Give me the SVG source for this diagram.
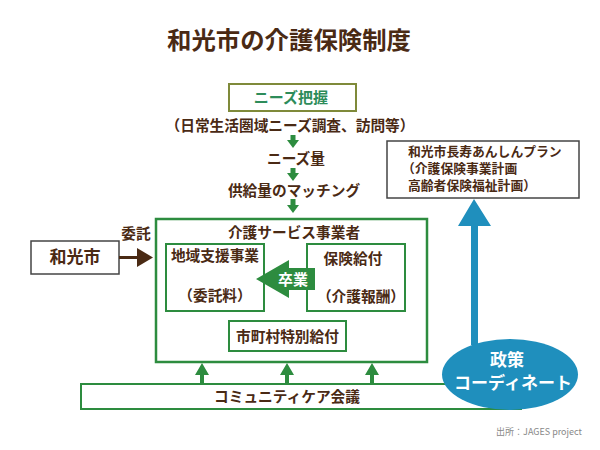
<svg xmlns="http://www.w3.org/2000/svg" width="600" height="450" viewBox="0 0 600 450">
<defs><style>
text{font-family:"Noto Sans CJK JP","Noto Sans",sans-serif;font-weight:700;fill:#4a2a14;text-anchor:middle}
.s{font-size:14.7px}
.p{font-size:12.800px;text-anchor:start}
.w{fill:#fff;font-size:17px}
.box{fill:#fff;stroke:#2d8c3f;stroke-width:2}
.dark{fill:#fff;stroke:#444;stroke-width:1.5}
.ga{fill:#2d8c3f}
.bl{fill:#1f8fbd}
</style></defs>
<rect width="600" height="450" fill="#fff"/>
<text id="title" x="289" y="49" font-size="24.4">和光市の介護保険制度</text>
<g id="community"><rect class="box" x="81" y="384" width="440" height="25"/><text class="s" x="287" y="402">コミュニティケア会議</text></g>
<g id="care"><rect class="box" x="156" y="219" width="271" height="143" style="stroke-width:2.5"/><text class="s" x="294" y="238">介護サービス事業者</text></g>
<g id="needs"><rect x="229" y="84" width="127" height="27" fill="#fff" stroke="#7f8a3a" stroke-width="2"/><text x="291" y="103" font-size="15" style="fill:#2d8c5a">ニーズ把握</text></g>
<text class="s" id="t1" x="290" y="131">（日常生活圏域ニーズ調査、訪問等）</text>
<text class="s" id="t2" x="296" y="164">ニーズ量</text>
<text class="s" id="t3" x="294" y="196">供給量のマッチング</text>
<g id="plan"><rect class="dark" x="387" y="141" width="192" height="57"/>
<text class="p" x="408" y="156">和光市長寿あんしんプラン</text>
<text class="p" x="402" y="173">（介護保険事業計画</text>
<text class="p" x="408" y="190">高齢者保険福祉計画）</text></g>
<g id="wako"><rect class="dark" x="31" y="241" width="88" height="33"/><text x="75" y="263" font-size="17">和光市</text></g>
<text class="s" id="itaku" x="136" y="239">委託</text>
<g id="chiiki"><rect class="box" x="166" y="244" width="98" height="67"/><text class="s" x="215" y="261">地域支援事業</text><text class="s" x="215" y="301">（委託料）</text></g>
<g id="hoken"><rect class="box" x="307" y="244" width="98" height="67"/><text class="s" x="353" y="264">保険給付</text><text class="s" x="361" y="302">（介護報酬）</text></g>
<g id="shicho"><rect class="box" x="229" y="321" width="117" height="30"/><text class="s" x="287.500" y="342">市町村特別給付</text></g>
<g id="connectors">
<path class="ga" d="M290.500 135h5v5h3.500l-6 8-6-8h3.500zM290.500 168h5v5h3.500l-6 8-6-8h3.500zM290.500 199h5v6h3.500l-6 8-6-8h3.500z"/>
<path fill="#4a2a14" d="M119 256h18v-8l16 9.500-16 9.500v-8h-18z"/>
<path class="ga" d="M256 279l33-19v8h26v22h-26v8z"/>
<path class="ga" d="M200 384v-9h-5l7-12 7 12h-5v9zM285 384v-9h-5l7-12 7 12h-5v9zM370 384v-9h-5l7-12 7 12h-5v9z"/>
<path class="bl" d="M471 345v-119h-13l16-27 17 27h-13v119z"/>
</g>
<text id="sotsu" x="293" y="285" font-size="15" style="fill:#fff">卒業</text>
<g id="coord"><ellipse class="bl" cx="510" cy="374.500" rx="68" ry="35.500"/><text class="w" x="507" y="366">政策</text><text class="w" x="513" y="389">コーディネート</text></g>
<text id="src" x="539" y="435" font-size="9" style="font-weight:400;fill:#888">出所：JAGES project</text>
</svg>
